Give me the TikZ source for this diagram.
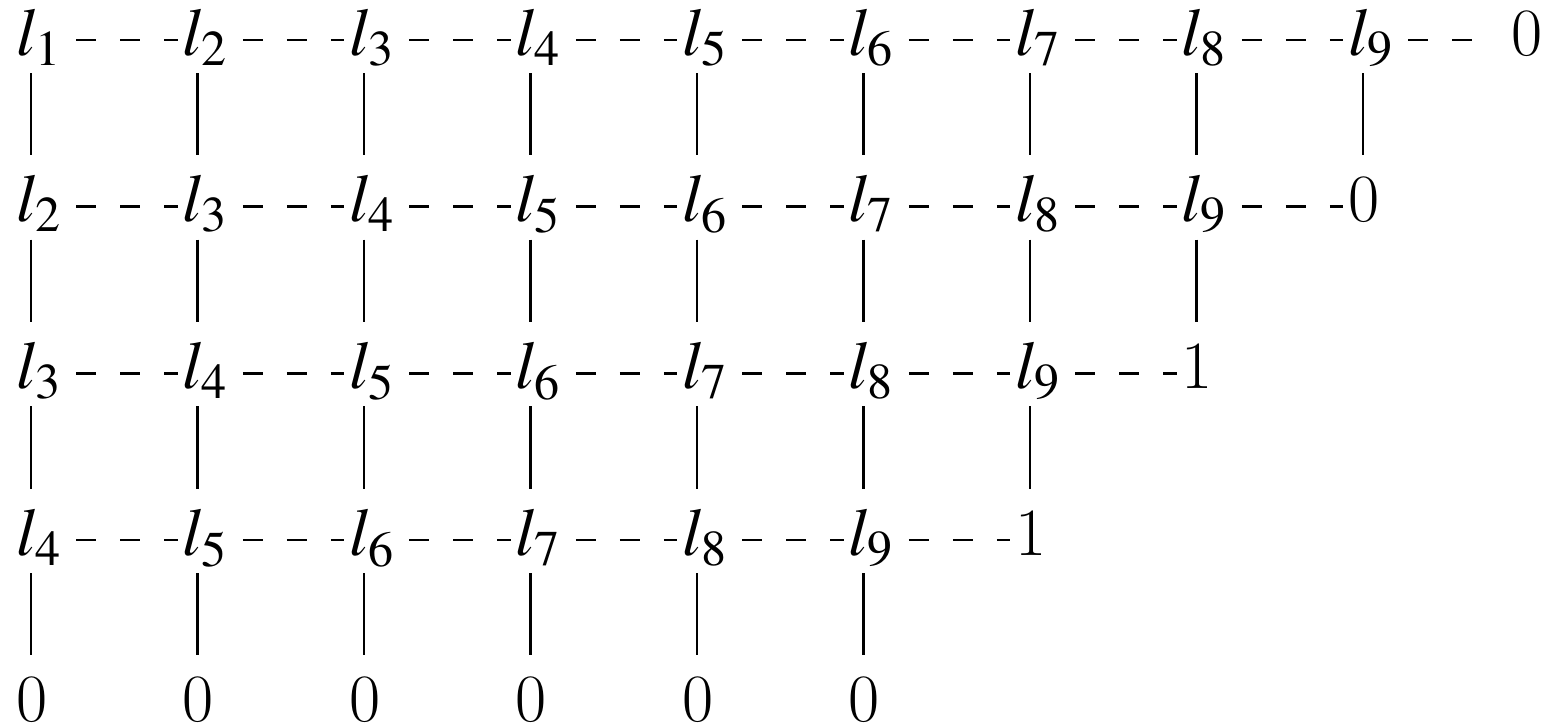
\documentclass[tikz,border=0pt]{standalone}
\usepackage{mathptmx}

\begin{document}
\begin{tikzpicture}[every node/.style={inner sep=0pt, anchor=base west, font=\fontsize{38.5}{42}\selectfont},
	vline/.style={line width=1.4pt},
	hline/.style={line width=1.4pt, dash pattern=on 0.4cm off 0.48cm}]

\useasboundingbox (0,0) rectangle (31.08,-14.54);

\foreach \r in {1,...,4}{
	\pgfmathtruncatemacro{\last}{10-\r}
	\foreach \c in {1,...,\last}{
		\pgfmathtruncatemacro{\k}{\r+\c-1}
		\node (n-\r-\c) at ({0.32+3.33*(\c-1)},{-1.1-3.334*(\r-1)}) {$l_{\k}$};
	}
}

\node[inner xsep=0.3cm] (n-1-10) at (29.92,-1.1) {0};
\node (n-2-9) at ({0.32+3.33*8},{-1.1-3.334}) {0};
\node (n-3-8) at ({0.32+3.33*7},{-1.1-3.334*2}) {1};
\node (n-4-7) at ({0.32+3.33*6},{-1.1-3.334*3}) {1};
\foreach \c in {1,...,6}
	\node (n-5-\c) at ({0.32+3.33*(\c-1)},{-1.1-3.334*4}) {0};

\foreach \r in {1,...,4}{
	\pgfmathtruncatemacro{\last}{10-\r}
	\pgfmathtruncatemacro{\nr}{\r+1}
	\foreach \c in {1,...,\last}{
		\pgfmathtruncatemacro{\nc}{\c+1}
		\draw[hline] ([shift={(0.3,0.3)}]n-\r-\c.base east) -- ([shift={(-0.1,0.3)}]n-\r-\nc.base west);
		\draw[vline] ([shift={(0.3,-0.36)}]n-\r-\c.base west) -- ([shift={(0.3,1.33)}]n-\nr-\c.base west);
	}
}

\end{tikzpicture}
\end{document}
